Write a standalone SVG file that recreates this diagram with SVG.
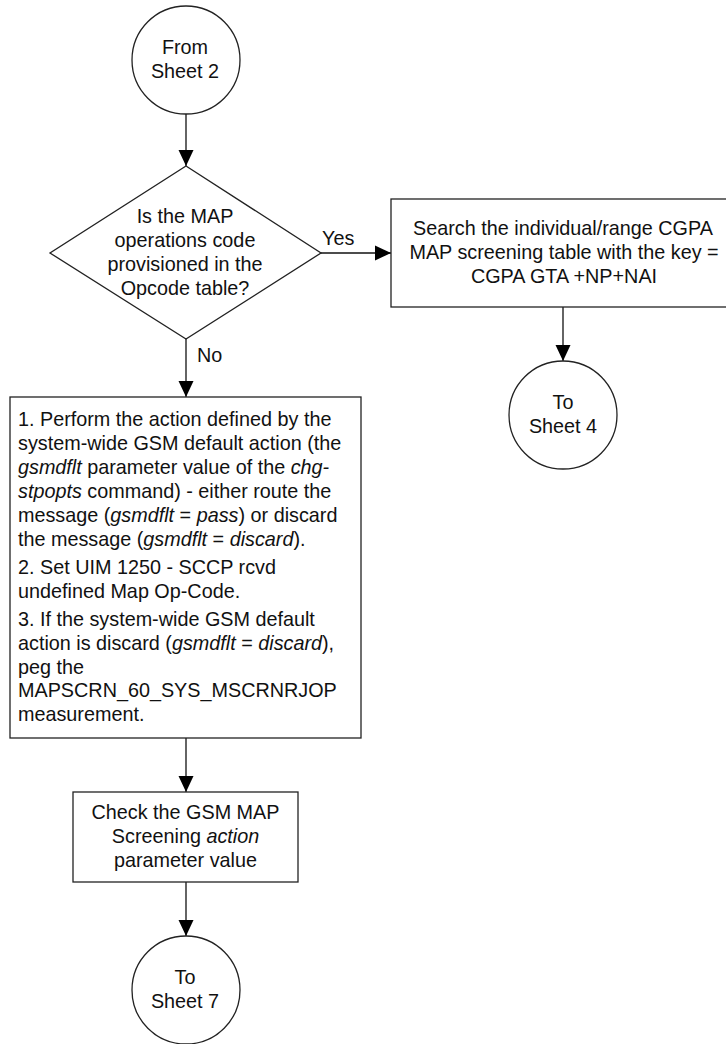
<svg xmlns="http://www.w3.org/2000/svg" width="726" height="1044" viewBox="0 0 726 1044">
<defs><marker id="a" markerUnits="userSpaceOnUse" markerWidth="18" markerHeight="18" refX="16" refY="8" orient="auto"><path d="M0 0.5L16 8L0 15.5Z" fill="#000"/></marker></defs>
<style>
text{font-family:"Liberation Sans",Arial,sans-serif;font-size:19.8px;fill:#111}
.m{text-anchor:middle}
.s{fill:#fff;stroke:#222;stroke-width:1.3}
.c{fill:none;stroke:#111;stroke-width:1.3}
</style>
<rect width="726" height="1044" fill="#fff"/>
<g id="connectors">
<path class="c" d="M186 114V166" marker-end="url(#a)"/>
<path class="c" d="M321 253H391" marker-end="url(#a)"/>
<path class="c" d="M186 339V397" marker-end="url(#a)"/>
<path class="c" d="M563 307V361" marker-end="url(#a)"/>
<path class="c" d="M186 738V792" marker-end="url(#a)"/>
<path class="c" d="M186 882V936" marker-end="url(#a)"/>
</g>
<g id="n1"><circle class="s" cx="186" cy="60" r="54"/><text class="m" x="185" y="54">From</text><text class="m" x="185" y="78">Sheet 2</text></g>
<g id="n2"><path class="s" d="M186 166L321 253L186 339L50 253Z"/>
<text class="m" x="185" y="223">Is the MAP</text><text class="m" x="185" y="247">operations code</text><text class="m" x="185" y="271">provisioned in the</text><text class="m" x="185" y="295">Opcode table?</text></g>
<g id="n3"><rect class="s" x="391" y="199" width="336" height="108"/>
<text class="m" x="563" y="235">Search the individual/range CGPA</text><text class="m" x="564" y="259">MAP screening table with the key =</text><text class="m" x="564" y="283">CGPA GTA +NP+NAI</text></g>
<g id="n4"><circle class="s" cx="563" cy="415" r="54"/><text class="m" x="563" y="409">To</text><text class="m" x="563" y="433">Sheet 4</text></g>
<g id="n5"><rect class="s" x="10" y="397" width="351" height="341"/>
<text x="18" y="426">1. Perform the action defined by the</text>
<text x="18" y="450">system-wide GSM default action (the</text>
<text x="18" y="474"><tspan font-style="italic">gsmdflt</tspan> parameter value of the <tspan font-style="italic">chg-</tspan></text>
<text x="18" y="498"><tspan font-style="italic">stpopts</tspan> command) - either route the</text>
<text x="18" y="522">message (<tspan font-style="italic">gsmdflt</tspan> = <tspan font-style="italic">pass</tspan>) or discard</text>
<text x="18" y="546">the message (<tspan font-style="italic">gsmdflt</tspan> = <tspan font-style="italic">discard</tspan>).</text>
<text x="18" y="574">2. Set UIM 1250 - SCCP rcvd</text>
<text x="18" y="598">undefined Map Op-Code.</text>
<text x="18" y="626">3. If the system-wide GSM default</text>
<text x="18" y="650">action is discard (<tspan font-style="italic">gsmdflt</tspan> = <tspan font-style="italic">discard</tspan>),</text>
<text x="18" y="674">peg the</text>
<text x="18" y="697">MAPSCRN_60_SYS_MSCRNRJOP</text>
<text x="18" y="721">measurement.</text></g>
<g id="n6"><rect class="s" x="73" y="792" width="225" height="90"/>
<text class="m" x="185.500" y="819">Check the GSM MAP</text><text class="m" x="185.500" y="843">Screening <tspan font-style="italic">action</tspan></text><text class="m" x="185.500" y="867">parameter value</text></g>
<g id="n7"><circle class="s" cx="186" cy="990" r="54"/><text class="m" x="185" y="984">To</text><text class="m" x="185" y="1008">Sheet 7</text></g>
<g id="labels"><text x="322" y="245">Yes</text><text x="197" y="362">No</text></g>
</svg>
